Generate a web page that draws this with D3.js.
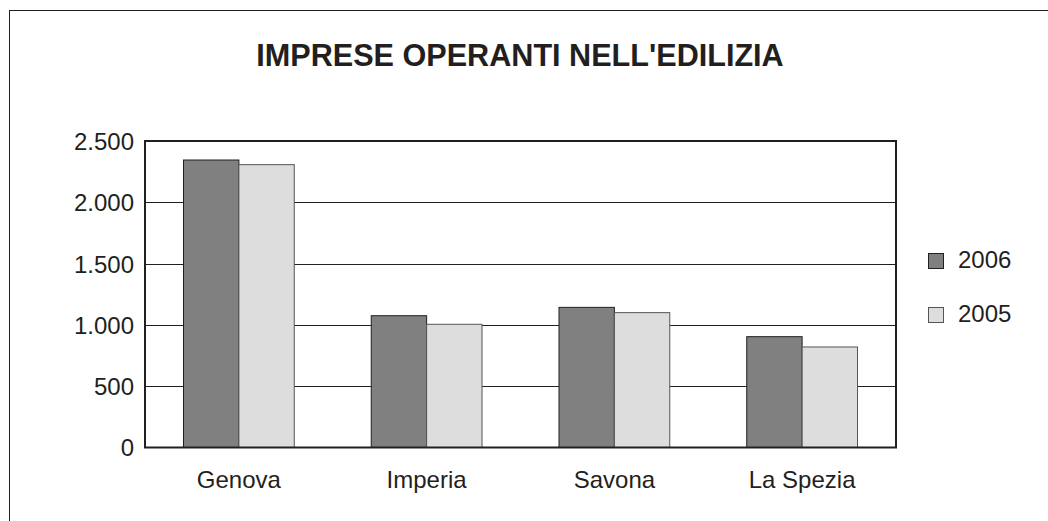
<!DOCTYPE html>
<html>
<head>
<meta charset="utf-8">
<script src="https://cdn.jsdelivr.net/npm/d3@7/dist/d3.min.js"></script>
<style>
	body { margin:0; background:#fff; }
	svg { display:block; font-family:"Liberation Sans", Arial, sans-serif; }
</style>
</head>
<body>
<svg id="chart" width="1048" height="521"></svg>
<script>
	// dati
	var categories = ["Genova", "Imperia", "Savona", "La Spezia"];
	var series = ["2006", "2005"];
	var values2006 = [2345, 1075, 1143, 904];
	var values2005 = [2307, 1005, 1100, 820];
	var yTicks = [0, 500, 1000, 1500, 2000, 2500];
	var colors = ["#808080", "#dddddd"];

	var ink = "#231f20";
	var svg = d3.select("#chart");

	var plot = {left:145, top:141, right:896, bottom:447.5};

	var x = d3.scaleBand().domain(categories)
		.range([plot.left, plot.right])
		.paddingInner(0.41).paddingOuter(0.205);
	var xs = d3.scaleBand().domain(series).range([0, x.bandwidth()]);
	var y = d3.scaleLinear().domain([0, 2500]).range([plot.bottom, plot.top]);

	var fmt = function(d) { return d3.format(",")(d).replace(/,/g, "."); };

	// cornice esterna
	svg.append("rect")
		.attr("x", 9.5).attr("y", 10.5)
		.attr("width", 1100).attr("height", 600)
		.attr("fill", "none").attr("stroke", ink).attr("stroke-width", 1);

	svg.append("text")
		.attr("x", 520).attr("y", 66)
		.attr("text-anchor", "middle")
		.attr("font-size", 30.6).attr("font-weight", "bold")
		.attr("fill", ink)
		.text("IMPRESE OPERANTI NELL'EDILIZIA");

	// griglia
	svg.append("g").selectAll("line")
		.data(yTicks.slice(1, -1))
		.enter().append("line")
		.attr("x1", plot.left).attr("x2", plot.right)
		.attr("y1", function(d){ return Math.round(y(d)) + 0.5; })
		.attr("y2", function(d){ return Math.round(y(d)) + 0.5; })
		.attr("stroke", ink).attr("stroke-width", 1);

	// barre
	var data = categories.map(function(c, i) {
		return [{cat:c, s:"2006", v:values2006[i]}, {cat:c, s:"2005", v:values2005[i]}];
	});
	svg.append("g").selectAll("g")
		.data(data)
		.enter().append("g")
		.attr("transform", function(d){ return "translate(" + x(d[0].cat) + ",0)"; })
		.selectAll("rect")
		.data(function(d){ return d; })
		.enter().append("rect")
		.attr("x", function(d){ return xs(d.s); })
		.attr("y", function(d){ return y(d.v); })
		.attr("width", xs.bandwidth())
		.attr("height", function(d){ return plot.bottom - y(d.v); })
		.attr("fill", function(d,i){ return colors[i]; })
		.attr("stroke", function(d,i){ return i == 0 ? ink : "#555"; })
		.attr("stroke-width", 1);

	// riquadro area del grafico
	svg.append("rect")
		.attr("x", plot.left).attr("y", plot.top)
		.attr("width", plot.right - plot.left).attr("height", plot.bottom - plot.top)
		.attr("fill", "none").attr("stroke", ink).attr("stroke-width", 2);

	// asse y
	var yAxis = svg.append("g")
		.attr("transform", "translate(" + (plot.left - 11) + ",0)")
		.call(d3.axisLeft(y).tickValues(yTicks).tickFormat(fmt).tickSize(0).tickPadding(0));
	yAxis.select(".domain").remove();
	yAxis.selectAll("text")
		.attr("font-size", 24).attr("font-family", "Liberation Sans, Arial, sans-serif")
		.attr("fill", ink).attr("dy", "0.35em");

	// asse x
	var xAxis = svg.append("g")
		.attr("transform", "translate(0," + plot.bottom + ")")
		.call(d3.axisBottom(x).tickSize(0).tickPadding(0));
	xAxis.select(".domain").remove();
	xAxis.selectAll("text")
		.attr("font-size", 24).attr("font-family", "Liberation Sans, Arial, sans-serif")
		.attr("fill", ink).attr("dy", 0).attr("y", 40);

	// legenda
	var legend = svg.append("g").selectAll("g")
		.data(series)
		.enter().append("g")
		.attr("transform", function(d,i){ return "translate(928," + (253 + i*54) + ")"; });
	legend.append("rect")
		.attr("x", 0.5).attr("y", 0.5).attr("width", 15).attr("height", 15)
		.attr("fill", function(d,i){ return colors[i]; })
		.attr("stroke", function(d,i){ return i == 0 ? ink : "#555"; });
	legend.append("text")
		.attr("x", 30).attr("y", 15)
		.attr("font-size", 24).attr("fill", ink)
		.text(function(d){ return d; });
</script>
</body>
</html>
